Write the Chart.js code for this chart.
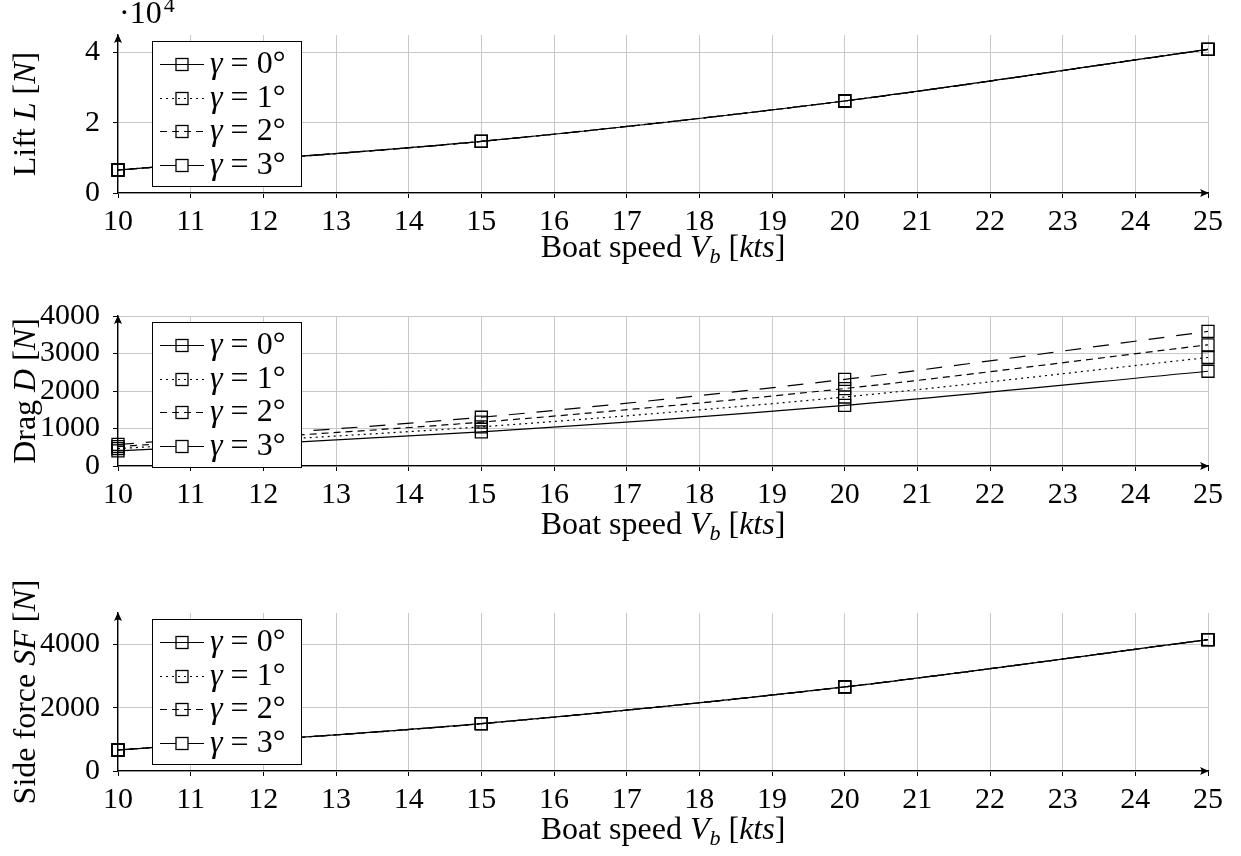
<!DOCTYPE html>
<html>
<head>
<meta charset="utf-8">
<script src="https://cdn.jsdelivr.net/npm/chart.js@4.4.0/dist/chart.umd.min.js"></script>
<style>
body{margin:0;background:#fff;}
canvas{position:absolute;left:0;}
</style>
</head>
<body>
<canvas id="liftChart" width="1241" height="285" style="top:0px"></canvas>
<canvas id="dragChart" width="1241" height="285" style="top:285px"></canvas>
<canvas id="sideChart" width="1241" height="286" style="top:570px"></canvas>
<script>
/* ==========================
   DATA
========================== */

const speeds = [10, 15, 20, 25];
const gammas = [0, 1, 2, 3];

// lift [N], the four curves coincide
const lift0 = [6550, 14700, 26200, 40900];
const lift1 = [6550, 14700, 26200, 40900];
const lift2 = [6550, 14700, 26200, 40900];
const lift3 = [6550, 14700, 26200, 40900];

// drag [N]
const drag0 = [404, 910, 1615, 2527];
const drag1 = [463, 1045, 1840, 2893];
const drag2 = [517, 1170, 2065, 3232];
const drag3 = [574, 1300, 2310, 3588];

// side force [N]
const side0 = [665, 1497, 2660, 4157];
const side1 = [665, 1497, 2660, 4157];
const side2 = [665, 1497, 2660, 4157];
const side3 = [665, 1497, 2660, 4157];

const liftTicks = [0, 20000, 40000];
const dragTicks = [0, 1000, 2000, 3000, 4000];
const sideTicks = [0, 2000, 4000];

/* ==========================
   STYLE
========================== */

const FONT = "'Liberation Serif', 'DejaVu Serif', serif";
const FS = 30;      // tick labels
const TS = 32;      // titles and legend
const dashes = [[], [2, 4], [7, 5], [16, 12]];
const AREA_H = 158;

function richText(ctx, parts, x, y){
    // parts: [text, kind] kind: n normal, i italic, s italic subscript
    const fontOf = k =>
        k === "n" ? TS + "px " + FONT :
        k === "i" ? "italic " + TS + "px " + FONT :
        "italic " + Math.round(TS * 0.7) + "px " + FONT;
    let w = 0;
    parts.forEach(p => { ctx.font = fontOf(p[1]); w += ctx.measureText(p[0]).width; });
    let cx = x - w / 2;
    ctx.textAlign = "left";
    ctx.textBaseline = "middle";
    parts.forEach(p => {
        ctx.font = fontOf(p[1]);
        ctx.fillText(p[0], cx, p[1] === "s" ? y + TS * 0.25 : y);
        cx += ctx.measureText(p[0]).width;
    });
}

function arrow(ctx, x, y, dir){
    ctx.save();
    ctx.translate(x, y);
    ctx.rotate(dir);
    ctx.beginPath();
    ctx.moveTo(0, 0);
    ctx.lineTo(-9, -4);
    ctx.quadraticCurveTo(-6, 0, -9, 4);
    ctx.closePath();
    ctx.fillStyle = "#000";
    ctx.fill();
    ctx.restore();
}

function decoPlugin(cfg){
    return {
        id: "deco",
        afterDatasetsDraw(chart){
            const ctx = chart.ctx;
            const a = chart.chartArea;
            // legend box
            const bx = a.left + 34, by = a.top + 6, bw = 149, bh = 145;
            ctx.save();
            ctx.fillStyle = "#fff";
            ctx.fillRect(bx, by, bw, bh);
            ctx.strokeStyle = "#000";
            ctx.lineWidth = 1;
            ctx.strokeRect(bx + 0.5, by + 0.5, bw, bh);
            gammas.forEach((g, i) => {
                const ly = Math.round(by + 23 + i * 33.7) + 0.5;
                ctx.setLineDash(dashes[i]);
                ctx.lineWidth = 1.2;
                ctx.beginPath();
                ctx.moveTo(bx + 8, ly);
                ctx.lineTo(bx + 52, ly);
                ctx.stroke();
                ctx.setLineDash([]);
                ctx.lineWidth = 1.3;
                ctx.strokeRect(bx + 24, ly - 6, 12, 12);
                ctx.fillStyle = "#000";
                ctx.textBaseline = "middle";
                ctx.textAlign = "left";
                ctx.font = "italic " + TS + "px " + FONT;
                let tx = bx + 58;
                ctx.fillText("\u03b3", tx, ly);
                tx += ctx.measureText("\u03b3").width;
                ctx.font = TS + "px " + FONT;
                ctx.fillText(" = " + g + "\u00b0", tx, ly);
            });
            ctx.restore();
        },
        afterDraw(chart){
            const ctx = chart.ctx;
            const a = chart.chartArea;
            ctx.save();
            ctx.fillStyle = "#000";
            arrow(ctx, a.left, a.top - 1, -Math.PI / 2);
            arrow(ctx, a.right + 1, a.bottom, 0);
            // x title
            richText(ctx, [["Boat speed ", "n"], ["V", "i"], ["b", "s"], [" [", "n"], ["kts", "i"], ["]", "n"]],
                (a.left + a.right) / 2, a.bottom + cfg.xTitleGap);
            // y title
            ctx.save();
            ctx.translate(27, (a.top + a.bottom) / 2);
            ctx.rotate(-Math.PI / 2);
            richText(ctx, cfg.yTitle, 0, 0);
            ctx.restore();
            if(cfg.exponent){
                ctx.font = TS + "px " + FONT;
                ctx.textAlign = "left";
                ctx.textBaseline = "middle";
                ctx.fillText("\u00b710", a.left + 1, 15);
                const w = ctx.measureText("\u00b710").width;
                ctx.font = Math.round(TS * 0.7) + "px " + FONT;
                ctx.fillText("4", a.left + 3 + w, 6);
            }
            ctx.restore();
        }
    };
}

function makeChart(id, series, cfg){
    const canvas = document.getElementById(id);
    const H = canvas.height;
    const axisBase = {
        grid: {color: "#c8c8c8", lineWidth: 1, tickColor: "#000", tickLength: 5},
        border: {color: "#000", width: 1.3}
    };
    return new Chart(canvas, {
        type: "line",
        data: {
            datasets: series.map((vals, i) => ({
                label: "\u03b3 = " + gammas[i] + "\u00b0",
                data: speeds.map((s, k) => ({x: s, y: vals[k]})),
                borderColor: "#000",
                borderWidth: 1.2,
                borderDash: dashes[i],
                tension: 0.3,
                clip: false,
                pointStyle: "rect",
                pointRadius: 8.5,
                pointBorderWidth: 1.3,
                pointBorderColor: "#000",
                pointBackgroundColor: "rgba(0,0,0,0)"
            }))
        },
        options: {
            responsive: false,
            animation: false,
            layout: {padding: {left: 0, right: 33, top: cfg.top, bottom: 0}},
            plugins: {legend: {display: false}, tooltip: {enabled: false}},
            scales: {
                x: Object.assign({
                    type: "linear", min: 10, max: 25,
                    ticks: {stepSize: 1, color: "#000", font: {family: FONT, size: FS}, padding: 6, maxRotation: 0, autoSkip: false},
                    afterFit: s => { s.height = H - cfg.top - AREA_H; }
                }, axisBase),
                y: Object.assign({
                    type: "linear", min: 0, max: cfg.max,
                    ticks: {stepSize: cfg.ticks[1], color: "#000", font: {family: FONT, size: FS}, padding: 13,
                        autoSkip: false, callback: cfg.fmt || (v => v)},
                    afterBuildTicks: s => { s.ticks = cfg.ticks.map(v => ({value: v})); },
                    afterFit: s => { s.width = 118; }
                }, axisBase)
            }
        },
        plugins: [decoPlugin(cfg)]
    });
}

makeChart("liftChart", [lift0, lift1, lift2, lift3], {
    top: 35, max: 45000, ticks: liftTicks, fmt: v => v / 10000, exponent: true, xTitleGap: 56,
    yTitle: [["Lift ", "n"], ["L", "i"], [" [", "n"], ["N", "i"], ["]", "n"]]
});

makeChart("dragChart", [drag0, drag1, drag2, drag3], {
    top: 23, max: 4000, ticks: dragTicks, xTitleGap: 60,
    yTitle: [["Drag ", "n"], ["D", "i"], [" [", "n"], ["N", "i"], ["]", "n"]]
});

makeChart("sideChart", [side0, side1, side2, side3], {
    top: 43, max: 5000, ticks: sideTicks, xTitleGap: 60,
    yTitle: [["Side force ", "n"], ["SF", "i"], [" [", "n"], ["N", "i"], ["]", "n"]]
});
</script>
</body>
</html>
